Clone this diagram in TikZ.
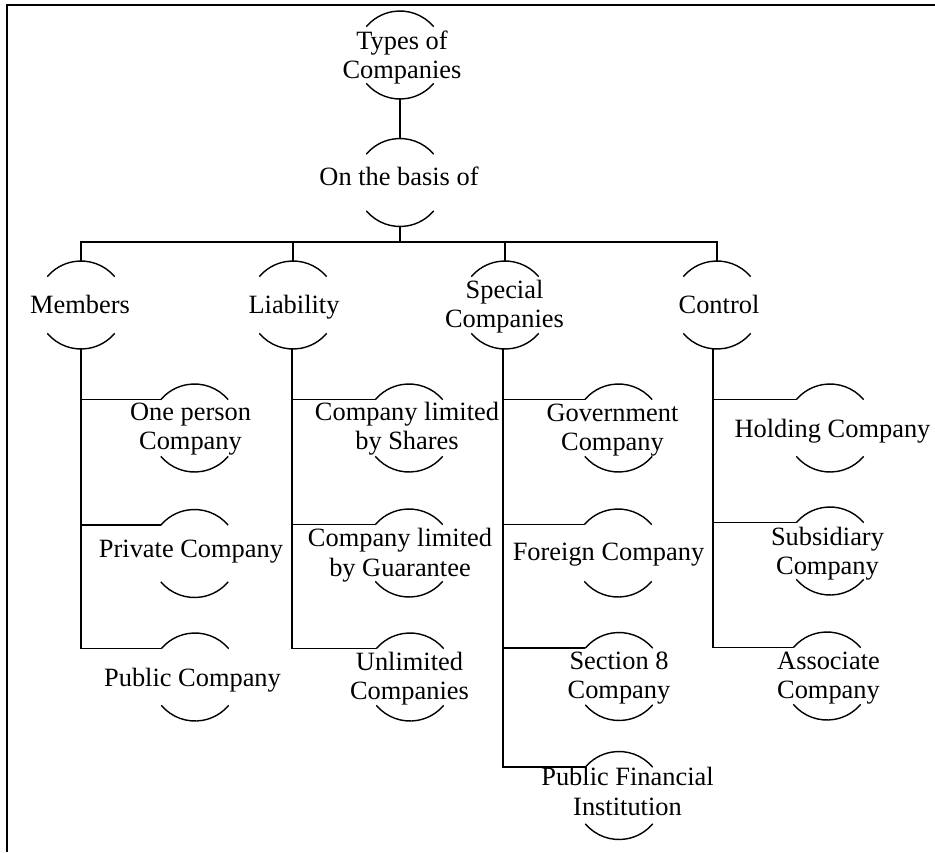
\documentclass[tikz,border=0pt]{standalone}
\usepackage{fontspec}
\setmainfont{Liberation Serif}
\begin{document}
\begin{tikzpicture}[x=1pt,y=1pt,
  bub/.style={circle, minimum size=88pt, inner sep=0pt, outer sep=0pt, draw=none},
  lbl/.style={anchor=base, align=center, inner sep=0pt, font=\fontsize{26.4}{29.5}\selectfont},
  link/.style={line width=1.5pt},
  rim/.style={line width=1.4pt},
  frame/.style={line width=2pt},
]
\useasboundingbox (0,0) rectangle (935,-852);

% page frame (left and top edges)
\draw[frame] (7,-852) -- (7,-5) -- (935,-5);

% bubbles (circle outlines drawn only at top and bottom)
\node[bub] (root)    at (400,-55)    {};
\node[bub] (basis)   at (400,-182.5) {};
\node[bub] (members) at (81,-305)    {};
\node[bub] (liab)    at (293,-305)   {};
\node[bub] (spec)    at (505,-305)   {};
\node[bub] (ctrl)    at (717,-305)   {};
\node[bub] (one)     at (194.5,-428) {};
\node[bub] (priv)    at (194.5,-553.5) {};
\node[bub] (pub)     at (195,-677)   {};
\node[bub] (shares)  at (409,-428)   {};
\node[bub] (guar)    at (409,-553)   {};
\node[bub] (unlim)   at (410,-677)   {};
\node[bub] (gov)     at (618.5,-428) {};
\node[bub] (foreign) at (618,-553)   {};
\node[bub] (sec8)    at (619,-676.5) {};
\node[bub] (pfi)     at (619,-795.5) {};
\node[bub] (hold)    at (830,-428)   {};
\node[bub] (subs)    at (830,-551)   {};
\node[bub] (assoc)   at (827,-676)   {};

\foreach \n in {root,basis,members,liab,spec,ctrl,one,priv,pub,shares,guar,unlim,gov,foreign,sec8,pfi,hold,subs,assoc} {
  \draw[rim] (\n.40) arc[start angle=40,end angle=140,radius=44pt];
  \draw[rim] (\n.220) arc[start angle=220,end angle=320,radius=44pt];
}

% labels (base anchor sits on the last line)
\node[lbl] (root-t)    at (402,-78.5)   {Types of\\Companies};
\node[lbl] (basis-t)   at (399,-185)    {On the basis of};
\node[lbl] (members-t) at (80,-313)     {Members};
\node[lbl] (liab-t)    at (294,-313)    {Liability};
\node[lbl] (spec-t)    at (504.5,-327.5) {Special\\Companies};
\node[lbl] (ctrl-t)    at (719,-313)    {Control};
\node[lbl] (one-t)     at (190.5,-449.5) {One person\\Company};
\node[lbl] (priv-t)    at (191,-557)    {Private Company};
\node[lbl] (pub-t)     at (192.5,-686)  {Public Company};
\node[lbl] (shares-t)  at (407,-449.5)  {Company limited\\by Shares};
\node[lbl] (guar-t)    at (400,-576)    {Company limited\\by Guarantee};
\node[lbl] (unlim-t)   at (409.5,-699.5) {Unlimited\\Companies};
\node[lbl] (gov-t)     at (612.5,-450.5) {Government\\Company};
\node[lbl] (foreign-t) at (608.5,-560)  {Foreign Company};
\node[lbl] (sec8-t)    at (619,-698.5)  {Section 8\\Company};
\node[lbl] (pfi-t)     at (627.5,-815)  {Public Financial\\Institution};
\node[lbl] (hold-t)    at (832.5,-437)  {Holding Company};
\node[lbl] (subs-t)    at (827.5,-574.5) {Subsidiary\\Company};
\node[lbl] (assoc-t)   at (828.5,-698.5) {Associate\\Company};

% trunk and bus
\coordinate (bus) at (400,-242);
\draw[link] (root.south) -- (basis.north);
\draw[link] (basis.south) -- (bus);
\draw[link] (members.north) |- (bus) -| (ctrl.north);
\draw[link] (liab.north) -- (liab.north |- bus);
\draw[link] (spec.north) -- (spec.north |- bus);

% branches
\draw[link] (members.south) |- (one.140);
\draw[link] (members.south) |- (priv.140);
\draw[link] (members.south) |- (pub.140);
\draw[link] ([xshift=-1pt]liab.south) |- (shares.140);
\draw[link] ([xshift=-1pt]liab.south) |- (guar.140);
\draw[link] ([xshift=-1pt]liab.south) |- (unlim.140);
\draw[link] ([xshift=-2pt]spec.south) |- (gov.140);
\draw[link] ([xshift=-2pt]spec.south) |- (foreign.140);
\draw[link] ([xshift=-2pt]spec.south) |- (sec8.140);
\draw[link] ([xshift=-2pt]spec.south) |- (pfi.140);
\draw[link] ([xshift=-4pt]ctrl.south) |- (hold.140);
\draw[link] ([xshift=-4pt]ctrl.south) |- (subs.140);
\draw[link] ([xshift=-4pt]ctrl.south) |- (assoc.140);
\end{tikzpicture}
\end{document}
